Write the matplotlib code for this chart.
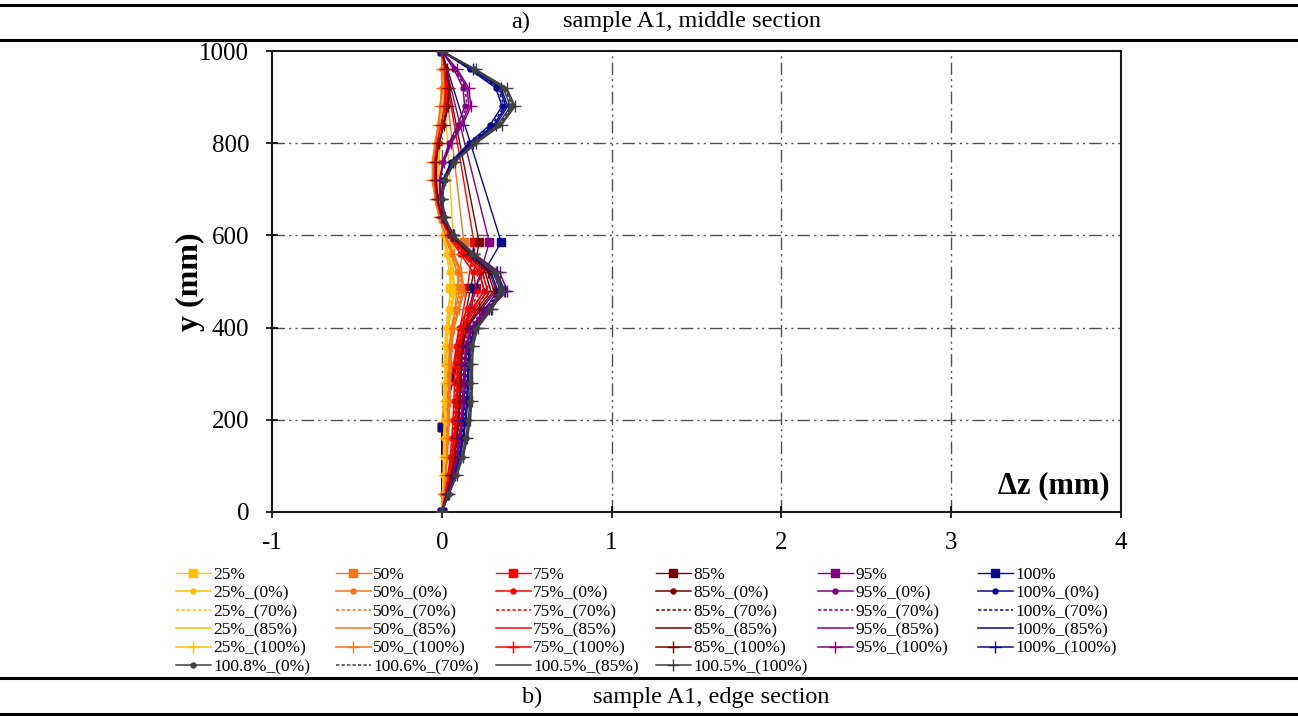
import matplotlib
matplotlib.use("Agg")
import matplotlib.pyplot as plt
from matplotlib.lines import Line2D

plt.rcParams['font.family'] = ['Liberation Serif', 'DejaVu Serif']

# ---------------- data ----------------
y_prof = [0, 40, 80, 120, 160, 200, 240, 280, 320, 360, 400, 440, 480, 520,
          560, 600, 640, 680, 720, 760, 800, 840, 880, 920, 960, 1000]
y_sq = [0, 185, 485, 585, 1000]

load_labels = ['25%', '50%', '75%', '85%', '95%', '100%']
sq_25 = [0, 0, 0.05, 0.07, 0]
sq_50 = [0, 0, 0.09, 0.13, 0]
sq_75 = [0, 0, 0.15, 0.19, 0]
sq_85 = [0, 0, 0.17, 0.22, 0]
sq_95 = [0, 0, 0.20, 0.28, 0]
sq_100 = [0, 0, 0.19, 0.35, 0]

p25_0 = [0, .004, .008, .010, .012, .014, .015, .016, .017, .019, .025, .038, .052, .045, .027, .008, -.004, -.012, -.016, -.016, -.011, -.004, .002, .004, .003, 0]
p25_70 = [0, .005, .010, .013, .015, .017, .019, .020, .021, .024, .031, .046, .062, .054, .032, .010, -.005, -.014, -.019, -.019, -.013, -.005, .002, .005, .003, 0]
p25_85 = [0, .006, .012, .015, .018, .020, .022, .023, .025, .028, .036, .053, .070, .061, .036, .011, -.006, -.016, -.021, -.021, -.015, -.006, .002, .005, .004, 0]
p25_100 = [0, .007, .013, .017, .020, .023, .025, .026, .028, .031, .040, .058, .077, .067, .040, .012, -.007, -.018, -.023, -.023, -.017, -.007, .002, .006, .004, 0]

p50_0 = [0, .009, .018, .024, .029, .033, .036, .039, .041, .045, .056, .080, .104, .090, .055, .016, -.012, -.030, -.040, -.040, -.030, -.016, -.006, .000, .001, 0]
p50_70 = [0, .010, .020, .027, .032, .036, .040, .043, .046, .050, .062, .089, .115, .100, .061, .018, -.014, -.034, -.045, -.045, -.034, -.018, -.007, .000, .001, 0]
p50_85 = [0, .011, .022, .030, .035, .040, .044, .047, .050, .055, .068, .096, .124, .108, .066, .020, -.015, -.037, -.050, -.050, -.037, -.020, -.008, .000, .001, 0]
p50_100 = [0, .012, .024, .032, .038, .043, .047, .051, .054, .059, .073, .103, .133, .116, .071, .022, -.016, -.040, -.055, -.055, -.040, -.022, -.009, .000, .001, 0]

p75_0 = [0, .018, .036, .050, .059, .066, .071, .075, .078, .083, .102, .150, .205, .185, .110, .036, -.004, -.024, -.033, -.033, -.021, -.004, .014, .020, .013, 0]
p75_70 = [0, .020, .040, .055, .065, .072, .078, .082, .085, .091, .112, .165, .228, .205, .122, .040, -.004, -.027, -.036, -.036, -.023, -.004, .016, .023, .015, 0]
p75_85 = [0, .022, .044, .060, .071, .079, .085, .089, .093, .099, .122, .178, .248, .222, .132, .044, -.004, -.029, -.039, -.039, -.025, -.004, .018, .025, .016, 0]
p75_100 = [0, .024, .048, .065, .077, .085, .091, .096, .100, .106, .131, .192, .268, .240, .142, .047, -.004, -.031, -.042, -.042, -.027, -.004, .020, .028, .018, 0]

p85_0 = [0, .022, .045, .061, .072, .080, .086, .090, .094, .100, .122, .180, .250, .222, .132, .045, .000, -.020, -.028, -.028, -.014, .008, .030, .036, .022, 0]
p85_70 = [0, .024, .049, .066, .078, .087, .093, .098, .102, .108, .132, .195, .270, .240, .143, .049, .000, -.022, -.030, -.030, -.015, .009, .033, .039, .024, 0]
p85_85 = [0, .026, .053, .071, .084, .093, .100, .105, .109, .116, .142, .209, .288, .256, .152, .052, .000, -.023, -.032, -.032, -.016, .010, .036, .042, .026, 0]
p85_100 = [0, .028, .057, .076, .090, .099, .106, .112, .116, .123, .151, .222, .306, .272, .162, .056, .000, -.025, -.034, -.034, -.017, .011, .039, .045, .028, 0]

p95_0 = [0, .027, .055, .075, .089, .099, .106, .111, .115, .122, .150, .232, .320, .282, .160, .055, .006, -.010, -.012, .006, .042, .095, .135, .125, .072, 0]
p95_70 = [0, .029, .059, .081, .096, .107, .114, .119, .124, .132, .162, .250, .345, .303, .172, .059, .007, -.010, -.012, .008, .047, .105, .148, .137, .079, 0]
p95_85 = [0, .031, .063, .086, .102, .114, .121, .127, .132, .140, .172, .265, .366, .322, .182, .063, .008, -.010, -.012, .010, .052, .114, .160, .148, .085, 0]
p95_100 = [0, .033, .067, .091, .108, .120, .128, .134, .139, .148, .182, .280, .386, .340, .192, .066, .009, -.010, -.012, .012, .056, .122, .172, .158, .091, 0]

p100_0 = [0, .033, .066, .093, .111, .124, .132, .136, .139, .147, .175, .255, .330, .290, .165, .058, .010, -.004, .008, .055, .160, .285, .355, .318, .165, 0]
p100_70 = [0, .035, .070, .098, .117, .131, .139, .144, .147, .155, .184, .267, .345, .303, .172, .061, .011, -.003, .010, .059, .168, .298, .368, .330, .171, 0]
p100_85 = [0, .037, .074, .103, .123, .137, .146, .151, .154, .162, .192, .278, .358, .314, .178, .063, .012, -.002, .012, .063, .175, .308, .378, .340, .176, 0]
p100_100 = [0, .039, .078, .108, .128, .143, .152, .157, .160, .168, .199, .288, .370, .325, .184, .065, .013, -.001, .014, .067, .181, .318, .388, .349, .181, 0]

g1008_0 = [0, .041, .083, .117, .140, .156, .164, .167, .167, .172, .200, .280, .345, .305, .180, .064, .014, .000, .016, .072, .190, .330, .405, .360, .188, 0]
g1006_70 = [0, .042, .085, .120, .144, .160, .169, .172, .172, .177, .205, .285, .352, .311, .184, .066, .015, .001, .017, .075, .195, .338, .415, .368, .192, 0]
g1005_85 = [0, .043, .087, .123, .148, .164, .173, .176, .176, .181, .209, .290, .358, .316, .187, .068, .016, .002, .018, .078, .199, .345, .423, .375, .196, 0]
g1005_100 = [0, .044, .089, .126, .151, .168, .177, .180, .180, .185, .213, .295, .364, .321, .190, .069, .017, .003, .019, .080, .203, .352, .432, .382, .200, 0]

gray_labels = ['100.8%_(0%)', '100.6%_(70%)', '100.5%_(85%)', '100.5%_(100%)']
variant_suffix = ['_(0%)', '_(70%)', '_(85%)', '_(100%)']

x_ticks = [-1, 0, 1, 2, 3, 4]
y_ticks = [0, 200, 400, 600, 800, 1000]

# ---------------- styles ----------------
colors = ['#FFC000', '#F47418', '#FF0000', '#7A0000', '#82007F', '#0A0A8C']
gray = '#404040'

sq_data = [sq_25, sq_50, sq_75, sq_85, sq_95, sq_100]
prof_data = [
    [p25_0, p25_70, p25_85, p25_100],
    [p50_0, p50_70, p50_85, p50_100],
    [p75_0, p75_70, p75_85, p75_100],
    [p85_0, p85_70, p85_85, p85_100],
    [p95_0, p95_70, p95_85, p95_100],
    [p100_0, p100_70, p100_85, p100_100],
]
gray_data = [g1008_0, g1006_70, g1005_85, g1005_100]

variant_style = [
    dict(ls='-', marker='o', ms=3.6),
    dict(ls=(0, (2.2, 1.4)), marker=None),
    dict(ls='-', marker=None),
    dict(ls='-', marker='+', ms=8, mew=1.0),
]

W, H = 1298, 716
fig = plt.figure(figsize=(W / 100, H / 100), dpi=100)
ax = fig.add_axes([272 / W, 1 - 512 / H, (1121 - 272) / W, (512 - 51) / H])

handles = {}
# square series
for c, lab, xs in zip(colors, load_labels, sq_data):
    h, = ax.plot(xs, y_sq, color=c, lw=1.0, marker='s', ms=5.5, zorder=3)
    handles[lab] = h
# profile series
for v, (suf, st) in enumerate(zip(variant_suffix, variant_style)):
    for c, lab, fam in zip(colors, load_labels, prof_data):
        h, = ax.plot(fam[v], y_prof, color=c, lw=1.1, zorder=3, **st)
        handles[lab + suf] = h
for lab, xs, st in zip(gray_labels, gray_data, variant_style):
    h, = ax.plot(xs, y_prof, color=gray, lw=1.1, zorder=3, **st)
    handles[lab] = h

ax.set_xlim(-1, 4)
ax.set_ylim(0, 1000)
ax.set_xticks(x_ticks)
ax.set_yticks(y_ticks)
ax.set_xticklabels([str(t) for t in x_ticks])
ax.tick_params(axis='both', direction='inout', length=9, width=1.2, labelsize=18)
ax.tick_params(axis='y', pad=12)
ax.tick_params(axis='x', pad=10)
for s in ax.spines.values():
    s.set_linewidth(1.5)
    s.set_color('#1a1a1a')

gls = (0, (9, 3, 1.5, 3, 1.5, 3))
for xv in [0, 1, 2, 3]:
    ax.axvline(xv, color='#505050', lw=1.0, ls=gls, zorder=1)
for yv in [200, 400, 600, 800]:
    ax.axhline(yv, color='#505050', lw=1.0, ls=gls, zorder=1)

ax.set_ylabel('y (mm)', fontsize=23, fontweight='bold', labelpad=-4)
ax.text(0.987, 0.057, 'Δz (mm)', transform=ax.transAxes, ha='right', va='center',
        fontsize=22, fontweight='bold')

# rules and headers
for yp, lw in [(5, 2.2), (40, 2.2), (678, 2.2), (714, 2.2)]:
    fig.add_artist(Line2D([0, 1], [1 - yp / H] * 2, transform=fig.transFigure,
                          color='black', lw=lw))
fig.text(511 / W, 1 - 22 / H, 'a)', ha='left', va='center', fontsize=17.5)
fig.text(563 / W, 1 - 22 / H, 'sample A1, middle section', ha='left', va='center', fontsize=17.5)
fig.text(522 / W, 1 - 697 / H, 'b)', ha='left', va='center', fontsize=17.5)
fig.text(593 / W, 1 - 697 / H, 'sample A1, edge section', ha='left', va='center', fontsize=17.5)

# legend, one column at a time (entries read row-wise in the figure)
columns = []
for i, lab in enumerate(load_labels):
    col = [lab] + [lab + s for s in variant_suffix]
    if i < 4:
        col.append(gray_labels[i])
    columns.append(col)
col_x = [176, 336, 496, 656, 818, 978]
for cx, col in zip(col_x, columns):
    fig.legend([handles[l] for l in col], col, loc='upper left',
               bbox_to_anchor=(cx / W, 1 - 567 / H), frameon=False,
               fontsize=12.5, handlelength=2.0, handletextpad=0.15,
               labelspacing=0.13, borderpad=0, borderaxespad=0)

fig.savefig('out.png', dpi=100)
